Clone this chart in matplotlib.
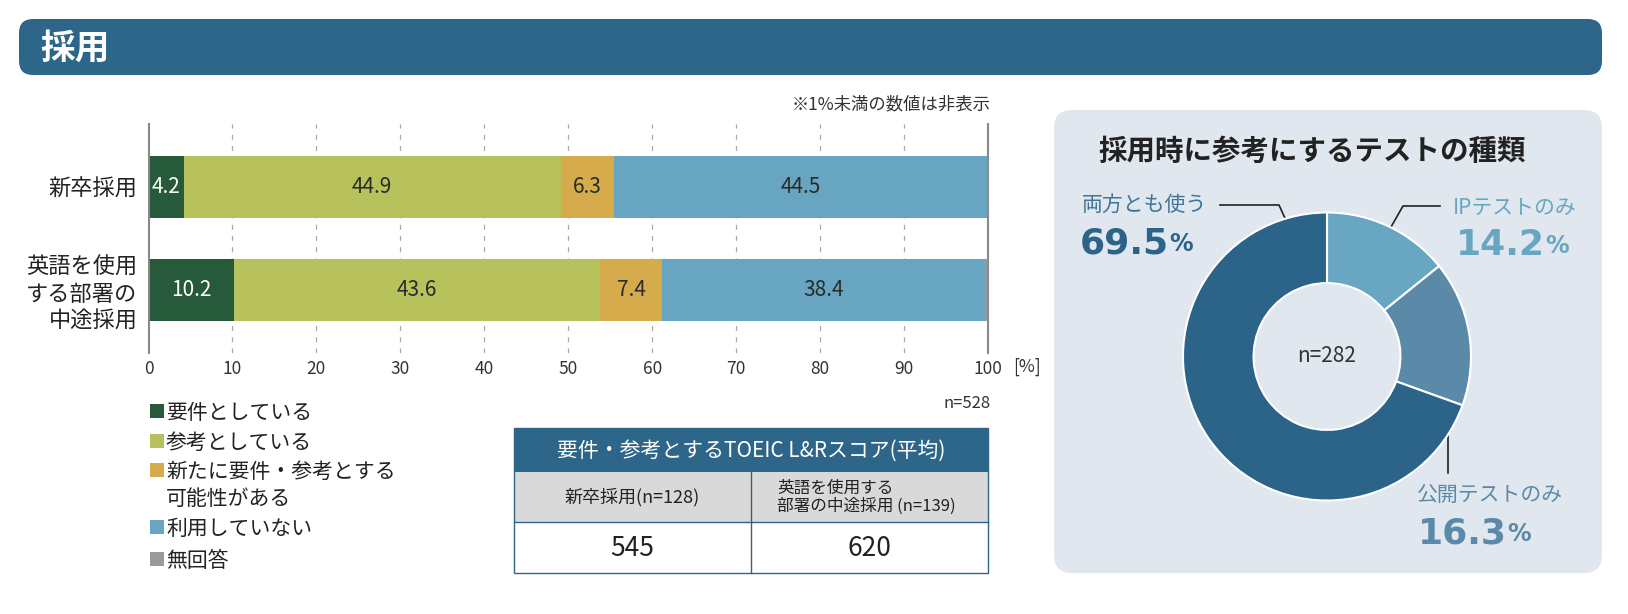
import matplotlib
matplotlib.use('Agg')
import matplotlib.pyplot as plt
from matplotlib.patches import FancyBboxPatch, Rectangle

plt.rcParams['font.family'] = ['Noto Sans CJK JP', 'DejaVu Sans']

# bar chart data
categories = ['新卒採用', '英語を使用\nする部署の\n中途採用']
series_names = ['要件としている', '参考としている', '新たに要件・参考とする\n可能性がある',
                '利用していない', '無回答']
yoken = [4.2, 10.2]
sanko = [44.9, 43.6]
aratani = [6.3, 7.4]
riyo_nashi = [44.5, 38.4]
mukaito = [0.1, 0.4]
bar_colors = ['#275a3b', '#b8c25d', '#d5ab4b', '#67a5c1', '#9a9a9a']
x_ticks = [0, 10, 20, 30, 40, 50, 60, 70, 80, 90, 100]

# table data
table_title = '要件・参考とするTOEIC L&Rスコア(平均)'
table_heads = ['新卒採用(n=128)', '英語を使用する\n部署の中途採用 (n=139)']
table_scores = [545, 620]

# donut data
donut_labels = ['IPテストのみ', '公開テストのみ', '両方とも使う']
donut_values = [14.2, 16.3, 69.5]
donut_colors = ['#68a6c2', '#5b8aa9', '#2c6389']

HEAD = '#2d6689'
W, H = 1628, 614

fig = plt.figure(figsize=(W / 100, H / 100), dpi=100)

# background layer in pixel coordinates
bg = fig.add_axes([0, 0, 1, 1], zorder=0)
bg.set_xlim(0, W)
bg.set_ylim(H, 0)
bg.axis('off')

bg.add_patch(FancyBboxPatch((19, 19), 1583, 56, boxstyle='round,pad=0,rounding_size=14',
                            fc=HEAD, ec='none'))
bg.text(40, 48, '採用', color='white', fontsize=25, fontweight='bold', va='center')

bg.text(991, 104, '※1%未満の数値は非表示', fontsize=12.5, ha='right', va='center', color='#333')
bg.text(991, 404, 'n=528', fontsize=12, ha='right', va='center', color='#333')

# legend
leg_y = [411, 441, 470, 527, 559]
for name, col, y in zip(series_names, bar_colors, leg_y):
    bg.add_patch(Rectangle((150, y - 7), 14, 14, fc=col, ec='none'))
    bg.text(166, y - 9, name, fontsize=15, va='top', ha='left', color='#222',
            linespacing=1.3)

# table
tx0, tx1, tmid = 514, 988, 751
bg.add_patch(Rectangle((tx0, 428), tx1 - tx0, 44, fc=HEAD, ec='none'))
bg.add_patch(Rectangle((tx0, 472), tx1 - tx0, 50, fc='#d9d9d9', ec='none'))
bg.add_patch(Rectangle((tx0, 428), tx1 - tx0, 145, fc='none', ec=HEAD, lw=1))
bg.plot([tmid, tmid], [472, 573], color=HEAD, lw=1)
bg.plot([tx0, tx1], [522, 522], color=HEAD, lw=1)
bg.text((tx0 + tx1) / 2, 451, table_title, color='white', fontsize=15, ha='center', va='center')
bg.text((tx0 + tmid) / 2, 497, table_heads[0], fontsize=13, ha='center', va='center', color='#222')
bg.text(777, 497, table_heads[1], fontsize=12, ha='left', va='center', color='#222',
        linespacing=1.05)
for cx, s in zip([(tx0 + tmid) / 2, (tmid + tx1) / 2], table_scores):
    bg.text(cx, 548, str(s), fontsize=19, ha='center', va='center', color='#222')

# donut panel
bg.add_patch(FancyBboxPatch((1054, 110), 548, 463, boxstyle='round,pad=0,rounding_size=18',
                            fc='#e0e7ef', ec='none'))
bg.text(1098, 152, '採用時に参考にするテストの種類', fontsize=20.5, fontweight='bold',
        va='center', color='#222')

# leader lines
bg.plot([1220, 1279, 1289], [205, 205, 227], color='#222', lw=1.2, zorder=5)
bg.plot([1440, 1403, 1383], [206, 206, 241], color='#222', lw=1.2, zorder=5)
bg.plot([1448, 1448], [410, 473], color='#222', lw=1.2, zorder=5)


def pct_label(x, y, value, color):
    t = bg.text(x, y, f'{value}', fontsize=26, fontweight='bold', color=color,
                family='DejaVu Sans', va='center', ha='left')
    bg.annotate('%', xy=(1, 0.12), xycoords=t, fontsize=17, fontweight='bold',
                color=color, family='DejaVu Sans', va='bottom', ha='left')


# 両方
bg.text(1082, 205, donut_labels[2], fontsize=15, color='#3f7498', va='center')
pct_label(1080, 243, donut_values[2], '#2c6389')
# IP
bg.text(1453, 208, donut_labels[0], fontsize=15, color='#68a6c2', va='center')
pct_label(1456, 245, donut_values[0], '#68a6c2')
# 公開
bg.text(1417, 496, donut_labels[1], fontsize=15, color='#5b8aa9', va='center')
pct_label(1418, 533, donut_values[1], '#5b8aa9')

# bar chart
ax = fig.add_axes([148.5 / W, 1 - 353 / H, (988 - 148.5) / W, 229 / H], zorder=1)
ax.patch.set_alpha(0)
ypos = [0, 1]
left = [0, 0]
all_series = [yoken, sanko, aratani, riyo_nashi, mukaito]
for i, (vals, col) in enumerate(zip(all_series, bar_colors)):
    bars = ax.barh(ypos, vals, left=left, height=0.6, color=col, zorder=2)
    labels = [f'{v}' if v >= 1 else '' for v in vals]
    ax.bar_label(bars, labels=labels, label_type='center', fontsize=15,
                 color='white' if i == 0 else '#2a2a2a')
    left = [l + v for l, v in zip(left, vals)]

for x in x_ticks[1:-1]:
    ax.axvline(x, color='#a8a8a8', lw=0.9, dashes=(4, 5), zorder=0)

ax.set_xlim(0, 100)
ax.set_ylim(1.612, -0.612)
ax.set_xticks(x_ticks)
ax.set_yticks(ypos)
ax.set_yticklabels(categories, fontsize=16, multialignment='right', linespacing=1.2)
ax.tick_params(axis='x', length=0, pad=5, labelsize=12.5, labelcolor='#333')
ax.tick_params(axis='y', length=0, pad=8, labelcolor='#222')
for s in ['top', 'bottom']:
    ax.spines[s].set_visible(False)
for s in ['left', 'right']:
    ax.spines[s].set_color('#8a8a8a')
    ax.spines[s].set_linewidth(1.5)
ax.annotate('[%]', xy=(100, 0), xycoords=('data', 'axes fraction'), xytext=(25, -14),
            textcoords='offset pixels', fontsize=12.5, ha='left', va='center', color='#333')

# donut
r = 144
cx, cy = 1327, 356.5
dax = fig.add_axes([(cx - r) / W, 1 - (cy + r) / H, 2 * r / W, 2 * r / H], zorder=1)
dax.pie(donut_values, colors=donut_colors, startangle=90, counterclock=False,
        radius=1, wedgeprops=dict(width=0.49, edgecolor='white', linewidth=1.5))
dax.set_xlim(-1.0, 1.0)
dax.set_ylim(-1.0, 1.0)
dax.set_aspect('equal')
dax.axis('off')
dax.text(0, 0, 'n=282', fontsize=15, ha='center', va='center', color='#333')

fig.savefig('out.png', dpi=100)
